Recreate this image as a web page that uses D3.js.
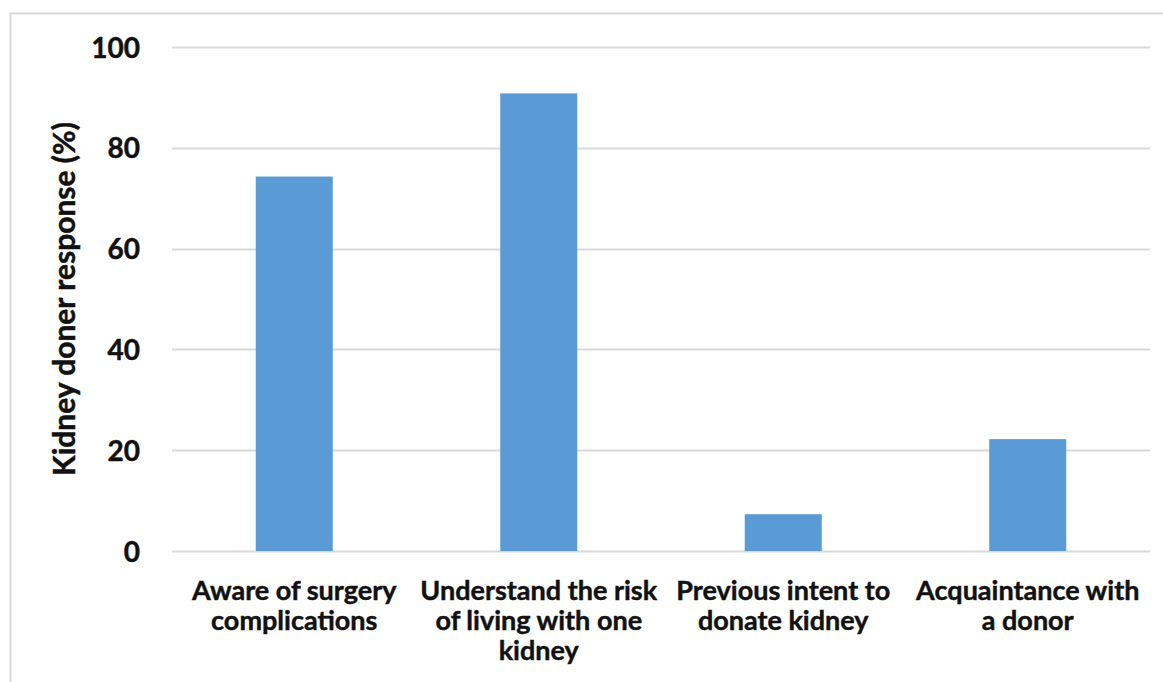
<!DOCTYPE html>
<html>
<head>
<meta charset="utf-8">
<script src="https://cdn.jsdelivr.net/npm/d3@7"></script>
<style>
  html, body { margin: 0; padding: 0; background: #fff; }
  svg { display: block; }
  text { font-family: Lato, "Open Sans", sans-serif; font-weight: 700; fill: #111; stroke: #111; stroke-width: 0.45px; }
</style>
</head>
<body>
<svg id="chart" width="1163" height="682"></svg>
<script>
// Survey responses of kidney donors (%)
const categories = [
  ["Aware of surgery", "complications"],
  ["Understand the risk", "of living with one", "kidney"],
  ["Previous intent to", "donate kidney"],
  ["Acquaintance with", "a donor"]
];
const responses = [74.3, 90.8, 7.3, 22.2];
const yTicks = [0, 20, 40, 60, 80, 100];
const yTitle = "Kidney doner response (%)";

const svg = d3.select("#chart");
const W = 1163, H = 682;
const plot = { left: 172, right: 1150, top: 47, bottom: 551 };

// chart frame
svg.append("rect")
  .attr("x", 10.5).attr("y", 13.5)
  .attr("width", W + 20).attr("height", H + 20)
  .attr("fill", "#fff").attr("stroke", "#d9d9d9").attr("stroke-width", 2);

const x = d3.scaleBand()
  .domain(d3.range(categories.length))
  .range([plot.left, plot.right])
  .paddingInner(0.685)
  .paddingOuter(0.3425);

const y = d3.scaleLinear().domain([0, 100]).range([plot.bottom, plot.top]);

// gridlines
svg.append("g")
  .selectAll("line")
  .data(yTicks)
  .join("line")
  .attr("x1", plot.left).attr("x2", plot.right)
  .attr("y1", d => Math.round(y(d)) + 0.5).attr("y2", d => Math.round(y(d)) + 0.5)
  .attr("stroke", "#d9d9d9").attr("stroke-width", 2);

// bars
svg.append("g")
  .selectAll("rect")
  .data(responses)
  .join("rect")
  .attr("x", (d, i) => x(i))
  .attr("width", x.bandwidth())
  .attr("y", d => y(d))
  .attr("height", d => y(0) - y(d))
  .attr("fill", "#5b9bd5");

// y tick labels
const yAxis = d3.axisLeft(y).tickValues(yTicks).tickSize(0).tickPadding(0);
const gy = svg.append("g").attr("transform", "translate(140,0)").call(yAxis);
gy.select(".domain").remove();
gy.selectAll("text")
  .attr("font-size", 28)
  .attr("dy", "0.36em")
  .style("font-family", "Lato, sans-serif").style("font-weight", 700)
  .attr("fill", "#111");

// category labels
const labels = svg.append("g")
  .selectAll("text")
  .data(categories)
  .join("text")
  .attr("text-anchor", "middle")
  .attr("font-size", 27)
  .attr("x", (d, i) => x(i) + x.bandwidth() / 2)
  .attr("y", 600);
labels.selectAll("tspan")
  .data(d => d)
  .join("tspan")
  .attr("x", function () { return d3.select(this.parentNode).attr("x"); })
  .attr("dy", (d, i) => i === 0 ? 0 : 30)
  .text(d => d);

// y axis title
svg.append("text")
  .attr("transform", "translate(75,299) rotate(-90)")
  .attr("text-anchor", "middle")
  .attr("font-size", 30)
  .text(yTitle);
</script>
</body>
</html>
